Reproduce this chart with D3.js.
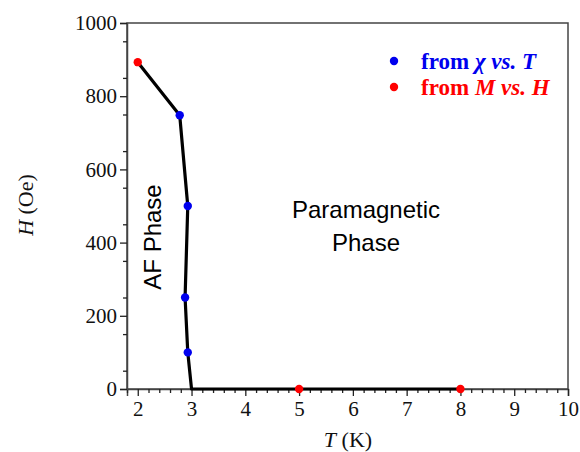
<!DOCTYPE html>
<html>
<head>
<meta charset="utf-8">
<script src="https://cdn.jsdelivr.net/npm/d3@7"></script>
<style>
  body { margin: 0; background: #fff; }
</style>
</head>
<body>
<script>
const width = 580;
const height = 452;

// phase boundary line (T in K, H in Oe)
const lineT = [2, 2.78, 2.93, 2.88, 2.93, 3.0, 5, 8];
const lineH = [893, 748, 500, 250, 100, 0, 0, 0];

// points from chi vs T
const chiT = [2.78, 2.93, 2.88, 2.93];
const chiH = [748, 500, 250, 100];

// points from M vs H
const mhT = [2, 5, 8];
const mhH = [893, 0, 0];

const xTicks = [2, 3, 4, 5, 6, 7, 8, 9, 10];
const yTicks = [0, 200, 400, 600, 800, 1000];

const margin = {left: 127, right: 12, top: 23, bottom: 63};

const svg = d3.select("body").append("svg")
    .attr("width", width)
    .attr("height", height);

const x = d3.scaleLinear().domain([1.8, 10]).range([margin.left, width - margin.right]);
const y = d3.scaleLinear().domain([0, 1000]).range([height - margin.bottom, margin.top]);

const axisColor = "#222";
const serif = "'Liberation Serif', 'Times New Roman', serif";
const sans = "'Liberation Sans', Arial, sans-serif";

// frame
svg.append("rect")
    .attr("x", x(1.8))
    .attr("y", y(1000))
    .attr("width", x(10) - x(1.8))
    .attr("height", y(0) - y(1000))
    .attr("fill", "none")
    .attr("stroke", "#444")
    .attr("stroke-width", 1.5);

// minor ticks
const xMinor = d3.range(18, 101, 2).map(d => d / 10).filter(d => !xTicks.includes(d));
const yMinor = d3.range(50, 1000, 100);

svg.append("g")
    .attr("transform", `translate(0,${y(0)})`)
    .call(d3.axisBottom(x).tickValues(xTicks).tickSize(7).tickPadding(5).tickFormat(d3.format("d")));
svg.append("g")
    .attr("transform", `translate(0,${y(0)})`)
    .call(d3.axisBottom(x).tickValues(xMinor).tickSize(4).tickFormat(""))
    .select(".domain").remove();

svg.append("g")
    .attr("transform", `translate(${x(1.8)},0)`)
    .call(d3.axisLeft(y).tickValues(yTicks).tickSize(7).tickPadding(3).tickFormat(d3.format("d")));
svg.append("g")
    .attr("transform", `translate(${x(1.8)},0)`)
    .call(d3.axisLeft(y).tickValues(yMinor).tickSize(4).tickFormat(""))
    .select(".domain").remove();

svg.selectAll(".tick line").attr("stroke", axisColor).attr("stroke-width", 1.3);
svg.selectAll(".domain").attr("stroke", "#444").attr("stroke-width", 1.5);
svg.selectAll(".tick text")
    .attr("fill", "#111")
    .style("font-family", serif)
    .style("font-size", "21px");

// axis titles
const yTitle = svg.append("text")
    .attr("transform", "translate(33,205) rotate(-90)")
    .attr("text-anchor", "middle")
    .style("font-family", serif)
    .style("font-size", "22px")
    .attr("fill", "#111");
yTitle.append("tspan").attr("font-style", "italic").text("H");
yTitle.append("tspan").text(" (Oe)");

const xTitle = svg.append("text")
    .attr("x", 348)
    .attr("y", 447)
    .attr("text-anchor", "middle")
    .style("font-family", serif)
    .style("font-size", "22px")
    .attr("fill", "#111");
xTitle.append("tspan").attr("font-style", "italic").text("T");
xTitle.append("tspan").text(" (K)");

// boundary line
const line = d3.line()
    .x((d, i) => x(lineT[i]))
    .y(d => y(d));

svg.append("path")
    .datum(lineH)
    .attr("d", line)
    .attr("fill", "none")
    .attr("stroke", "#000")
    .attr("stroke-width", 3.2)
    .attr("stroke-linejoin", "round");

// points
svg.selectAll(".chi")
    .data(chiH)
    .join("circle")
    .attr("class", "chi")
    .attr("cx", (d, i) => x(chiT[i]))
    .attr("cy", d => y(d))
    .attr("r", 4.2)
    .attr("fill", "#0000ee");

svg.selectAll(".mh")
    .data(mhH)
    .join("circle")
    .attr("class", "mh")
    .attr("cx", (d, i) => x(mhT[i]))
    .attr("cy", d => y(d))
    .attr("r", 4.2)
    .attr("fill", "#ff0000");

// phase labels
svg.append("text")
    .attr("transform", "translate(161,237) rotate(-90)")
    .attr("text-anchor", "middle")
    .style("font-family", sans)
    .style("font-size", "24px")
    .attr("fill", "#000")
    .text("AF Phase");

svg.append("text")
    .attr("x", 366)
    .attr("y", 218)
    .attr("text-anchor", "middle")
    .style("font-family", sans)
    .style("font-size", "24px")
    .attr("fill", "#000")
    .text("Paramagnetic");

svg.append("text")
    .attr("x", 366)
    .attr("y", 251)
    .attr("text-anchor", "middle")
    .style("font-family", sans)
    .style("font-size", "24px")
    .attr("fill", "#000")
    .text("Phase");

// legend
svg.append("circle").attr("cx", 394).attr("cy", 61).attr("r", 4.2).attr("fill", "#0000ee");
svg.append("circle").attr("cx", 394).attr("cy", 87).attr("r", 4.2).attr("fill", "#ff0000");

const l1 = svg.append("text")
    .attr("x", 421).attr("y", 69)
    .style("font-family", serif)
    .style("font-size", "23px")
    .style("font-weight", "bold")
    .attr("fill", "#0000ee");
l1.append("tspan").text("from ");
l1.append("tspan").attr("font-style", "italic").text("\u03C7 vs. T");

const l2 = svg.append("text")
    .attr("x", 421).attr("y", 95)
    .style("font-family", serif)
    .style("font-size", "23px")
    .style("font-weight", "bold")
    .attr("fill", "#ff0000");
l2.append("tspan").text("from ");
l2.append("tspan").attr("font-style", "italic").text("M vs. H");
</script>
</body>
</html>
